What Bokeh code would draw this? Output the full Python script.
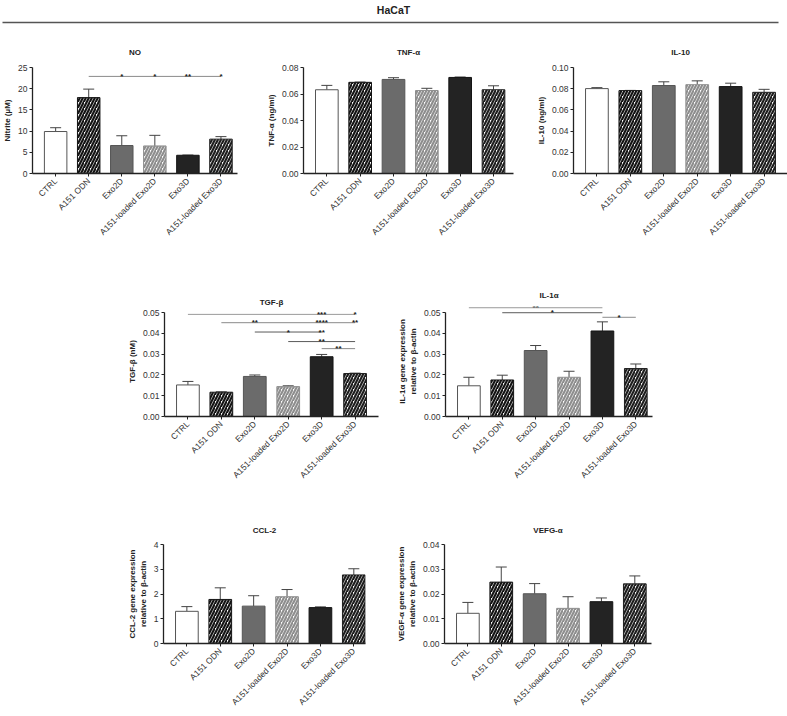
import math
from bokeh.plotting import figure
from bokeh.models import (ColumnDataSource, FixedTicker, Whisker, TeeHead, Range1d,
                          Spacer, PrintfTickFormatter)
from bokeh.layouts import column, row
from bokeh.embed import file_html
from bokeh.resources import INLINE
from bokeh.core.properties import value

FONT = "Liberation Sans"
FONT_V = value(FONT)

categories = ["CTRL", "A151 ODN", "Exo2D", "A151-loaded Exo2D", "Exo3D", "A151-loaded Exo3D"]

no_mean = [9.9, 17.9, 6.6, 6.5, 4.3, 8.1]
no_err = [0.9, 2.0, 2.3, 2.5, 0.05, 0.6]

tnf_mean = [0.0632, 0.0688, 0.0710, 0.0626, 0.0725, 0.0632]
tnf_err = [0.0033, 0.0002, 0.0013, 0.0017, 0.0003, 0.0030]

il10_mean = [0.0801, 0.0782, 0.0830, 0.0838, 0.0820, 0.0766]
il10_err = [0.0009, 0.0002, 0.0035, 0.0036, 0.0032, 0.0028]

tgf_mean = [0.0152, 0.0117, 0.0193, 0.0144, 0.0288, 0.0207]
tgf_err = [0.0017, 0.0002, 0.0007, 0.0004, 0.0011, 0.0002]

il1a_mean = [0.0148, 0.0176, 0.0318, 0.0189, 0.0412, 0.0231]
il1a_err = [0.0041, 0.0023, 0.0024, 0.0029, 0.0044, 0.0022]

ccl2_mean = [1.30, 1.78, 1.51, 1.89, 1.45, 2.77]
ccl2_err = [0.19, 0.47, 0.42, 0.29, 0.03, 0.25]

vegf_mean = [0.0122, 0.0248, 0.0201, 0.0142, 0.0169, 0.0241]
vegf_err = [0.0044, 0.0061, 0.0041, 0.0047, 0.0015, 0.0032]

# significance brackets: (from index, to index, y level, [(stars, x position)], line colour)
no_brackets = [(1, 5, 22.9, [("*", 2), ("*", 3), ("**", 4), ("*", 5)], "#8a8a8a")]
tgf_brackets = [
    (0, 5, 0.0492, [("***", 4), ("*", 5)], "#9a9a9a"),
    (1, 5, 0.0452, [("**", 2), ("****", 4), ("**", 5)], "#8a8a8a"),
    (2, 4, 0.0407, [("*", 3), ("**", 4)], "#5a5a5a"),
    (3, 5, 0.0361, [("**", 4)], "#5a5a5a"),
    (4, 5, 0.0327, [("**", 4.5)], "#8a8a8a"),
]
il1a_brackets = [
    (0, 4, 0.0524, [("**", 2)], "#9a9a9a"),
    (1, 4, 0.0500, [("*", 2.5)], "#5a5a5a"),
    (4, 5, 0.0478, [("*", 4.5)], "#8a8a8a"),
]

no_ticks = [0, 5, 10, 15, 20, 25]
tnf_ticks = [0.0, 0.02, 0.04, 0.06, 0.08]
il10_ticks = [0.0, 0.02, 0.04, 0.06, 0.08, 0.10]
tgf_ticks = [0.0, 0.01, 0.02, 0.03, 0.04, 0.05]
il1a_ticks = [0.0, 0.01, 0.02, 0.03, 0.04, 0.05]
ccl2_ticks = [0, 1, 2, 3, 4]
vegf_ticks = [0.0, 0.01, 0.02, 0.03, 0.04]

fills = ["white", "white", "#6b6b6b", "white", "#232323", "white"]
hatches = [" ", "/", " ", "/", " ", "/"]
hatch_colors = ["white", "#141414", "white", "#8e8e8e", "white", "#1e1e1e"]
outlines = ["#555555", "#141414", "#555555", "#8e8e8e", "#141414", "#1e1e1e"]

UNIT = 33.4      # px per category
X_START = -0.7


def panel(title, ylabel, mean, err, ticks, fmt, yend, x_end,
          fig_left, fig_right, frame_left, H, T, F,
          brackets=None, title_standoff=10):
    W = fig_right - fig_left
    L = frame_left - fig_left
    R = max(0, int(round(W - L - (x_end - X_START) * UNIT)))
    B = H - T - F
    p = figure(width=W, height=H, output_backend="svg", toolbar_location=None,
               x_range=Range1d(X_START, x_end), y_range=Range1d(0, yend),
               min_border_left=L, min_border_right=R, min_border_top=T,
               min_border_bottom=B, title=title)
    p.title.align = "center"
    p.title.text_font = FONT
    p.title.text_font_size = "8px"
    p.title.text_font_style = "bold"
    p.title.text_color = "#222222"
    p.title.standoff = title_standoff
    p.outline_line_color = None
    p.grid.visible = False
    p.background_fill_color = "white"

    x = list(range(len(categories)))
    src = ColumnDataSource(dict(
        x=x, top=mean, up=[m + e for m, e in zip(mean, err)],
        fill=fills, hatch=hatches, hcol=hatch_colors, line=outlines))
    p.vbar(x="x", top="top", width=0.68, source=src, fill_color="fill",
           line_color="line", line_width=1, hatch_pattern="hatch",
           hatch_color="hcol", hatch_scale=6, hatch_weight=2.2)
    w = Whisker(source=src, base="x", upper="up", lower="top", dimension="height",
                line_color="#444444", line_width=1,
                upper_head=TeeHead(size=11, line_color="#444444", line_width=1),
                lower_head=None)
    p.add_layout(w)

    if brackets:
        for (a, b, y, stars, col) in brackets:
            p.segment(x0=[a], x1=[b], y0=[y], y1=[y], line_color=col, line_width=1)
            p.text(x=[s[1] for s in stars], y=[y] * len(stars), text=[s[0] for s in stars],
                   text_align="center", text_baseline="middle", text_font_size="8px",
                   text_font_style="bold", text_color="#222222", text_font=FONT_V)

    xa = p.xaxis[0]
    xa.ticker = FixedTicker(ticks=x)
    xa.major_label_overrides = {i: c for i, c in enumerate(categories)}
    xa.major_label_orientation = math.pi / 4
    xa.major_label_text_font = FONT
    xa.major_label_text_font_size = "8.5px"
    xa.major_label_text_color = "#333333"
    xa.major_label_standoff = 3
    xa.major_tick_out = 3
    xa.major_tick_in = 0
    xa.minor_tick_line_color = None
    xa.axis_line_color = "#222222"
    xa.axis_line_width = 1.3
    xa.major_tick_line_color = "#222222"

    ya = p.yaxis[0]
    ya.ticker = FixedTicker(ticks=ticks)
    ya.formatter = PrintfTickFormatter(format=fmt)
    ya.bounds = (0, ticks[-1])
    ya.axis_label = ylabel
    ya.axis_label_text_font = FONT
    ya.axis_label_text_font_size = "8px"
    ya.axis_label_text_font_style = "bold"
    ya.axis_label_text_color = "#222222"
    ya.axis_label_standoff = 3
    ya.major_label_text_font = FONT
    ya.major_label_text_font_size = "8.5px"
    ya.major_label_text_color = "#333333"
    ya.major_label_standoff = 2
    ya.major_tick_out = 3
    ya.major_tick_in = 0
    ya.minor_tick_line_color = None
    ya.axis_line_color = "#222222"
    ya.axis_line_width = 1.3
    ya.major_tick_line_color = "#222222"
    return p


# title row
TW, TH = 787, 30
tp = figure(width=TW, height=TH, x_range=Range1d(0, TW), y_range=Range1d(0, TH),
            x_axis_type=None, y_axis_type=None, min_border=0, output_backend="svg",
            toolbar_location=None)
tp.outline_line_color = None
tp.grid.visible = False
tp.text(x=[393], y=[21], text=["HaCaT"], text_align="center", text_baseline="middle",
        text_font=FONT_V, text_font_size="10.5px", text_font_style="bold", text_color="#222222")
tp.segment(x0=[2], x1=[778], y0=[8], y1=[8], line_color="#555555", line_width=1.6)

# row 1
H1, T1, F1 = 251, 37, 106
p_no = panel("NO", "Nitrite (µM)", no_mean, no_err, no_ticks, "%d", 25, 5.5,
             0, 262, 30, H1, T1, F1, no_brackets, title_standoff=21)
p_tnf = panel("TNF-α", "TNF-α (ng/ml)", tnf_mean, tnf_err, tnf_ticks, "%.2f", 0.08, 5.6,
              262, 532, 303, H1, T1, F1, title_standoff=21)
p_il10 = panel("IL-10", "IL-10 (ng/ml)", il10_mean, il10_err, il10_ticks, "%.2f", 0.10, 5.7,
               532, 787, 573, H1, T1, F1, title_standoff=21)

# row 2 (frames extended above 0.05 for the significance bars)
H2, T2, F2 = 233, 25, 110
p_tgf = panel("TGF-β", "TGF-β (nM)", tgf_mean, tgf_err, tgf_ticks, "%.2f", 0.053, 5.7,
              119, 389, 164, H2, T2, F2, tgf_brackets, title_standoff=0)
p_il1a = panel("IL-1α", "IL-1α gene expression\nrelative to β-actin", il1a_mean, il1a_err,
               il1a_ticks, "%.2f", 0.053, 5.5, 389, 662, 445, H2, T2, F2,
               il1a_brackets, title_standoff=14)

# row 3
H3, T3, F3 = 202, 29, 100
p_ccl2 = panel("CCL-2", "CCL-2 gene expression\nrelative to β-actin", ccl2_mean, ccl2_err,
               ccl2_ticks, "%d", 4, 5.35, 119, 389, 163, H3, T3, F3, title_standoff=19)
p_vegf = panel("VEFG-α", "VEGF-α gene expression\nrelative to β-actin", vegf_mean, vegf_err,
               vegf_ticks, "%.2f", 0.04, 5.5, 389, 662, 444, H3, T3, F3, title_standoff=19)

layout = column(
    tp,
    row(p_no, p_tnf, p_il10),
    row(Spacer(width=119, height=H2), p_tgf, p_il1a),
    row(Spacer(width=119, height=H3), p_ccl2, p_vegf),
)

open("out.html", "w").write(file_html(layout, INLINE))
